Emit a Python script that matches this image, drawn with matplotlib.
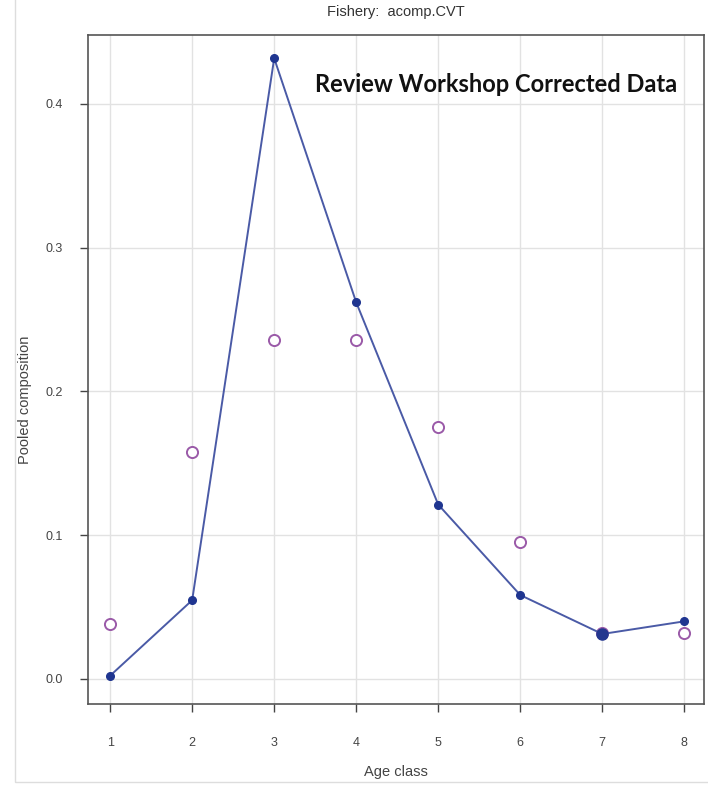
import matplotlib.pyplot as plt
from matplotlib.patches import Rectangle

# age classes and pooled composition values
ages = [1, 2, 3, 4, 5, 6, 7, 8]
observed = [0.0385, 0.158, 0.2358, 0.2358, 0.1755, 0.0951, 0.032, 0.0322]
expected = [0.0023, 0.0548, 0.4318, 0.262, 0.1213, 0.0584, 0.0313, 0.0401]
y_ticks = [0.0, 0.1, 0.2, 0.3, 0.4]
y_tick_labels = ['0.0', '0.1', '0.2', '0.3', '0.4']

plt.rcParams['font.family'] = ['Liberation Sans', 'DejaVu Sans']

fig = plt.figure(figsize=(7.08, 7.85), dpi=100)
ax = fig.add_axes([88 / 708, 81 / 785, 616 / 708, 669 / 785])

# faint screenshot border
fig.patches.append(Rectangle((15 / 708, 3 / 785), 1, 1, transform=fig.transFigure,
                             fill=False, edgecolor='#dddddd', linewidth=1))

ax.set_xlim(0.73, 8.24)
ax.set_ylim(-0.0174, 0.448)

for x in ages:
    ax.axvline(x, color='#e2e2e2', linewidth=1, zorder=0)
for y in y_ticks:
    ax.axhline(y, color='#e2e2e2', linewidth=1, zorder=0)

ax.plot(ages, observed, linestyle='none', marker='o', markersize=8,
        markerfacecolor='white', markeredgecolor='#9a5aa8', markeredgewidth=1.4, zorder=2)
ax.plot(ages, expected, color='#4a5aa6', linewidth=1.4, zorder=3)
ax.plot(ages, expected, linestyle='none', marker='o', markersize=5.5,
        color='#1f3590', zorder=4)
# the bigger dot at age 7 in the reference
ax.plot([ages[6]], [expected[6]], linestyle='none', marker='o', markersize=8,
        color='#24378f', zorder=4)

ax.set_xticks(ages)
ax.set_xticklabels([str(a) for a in ages])
ax.set_yticks(y_ticks)
ax.set_yticklabels(y_tick_labels)
ax.tick_params(direction='out', length=6, width=1, colors='#444444', labelsize=9)
ax.tick_params(axis='x', pad=18)
ax.tick_params(axis='y', pad=12)

for s in ax.spines.values():
    s.set_color('#555555')
    s.set_linewidth(1.2)

fig.text(396 / 708, 1 - 12 / 785, 'Fishery:  acomp.CVT', ha='center', va='center',
         fontsize=10.5, color='#333333')
fig.text(396 / 708, 1 - 772 / 785, 'Age class', ha='center', va='center',
         fontsize=10.5, color='#444444')
fig.text(25 / 708, 1 - 400 / 785, 'Pooled composition', ha='center', va='center',
         rotation=90, fontsize=10.5, color='#444444')

fig.text(496 / 708, 1 - 85 / 785, 'Review Workshop Corrected Data', ha='center', va='center',
         fontsize=17, fontweight='bold', family=['Lato', 'DejaVu Sans'], color='#111111')

fig.savefig('out.png', dpi=100)
